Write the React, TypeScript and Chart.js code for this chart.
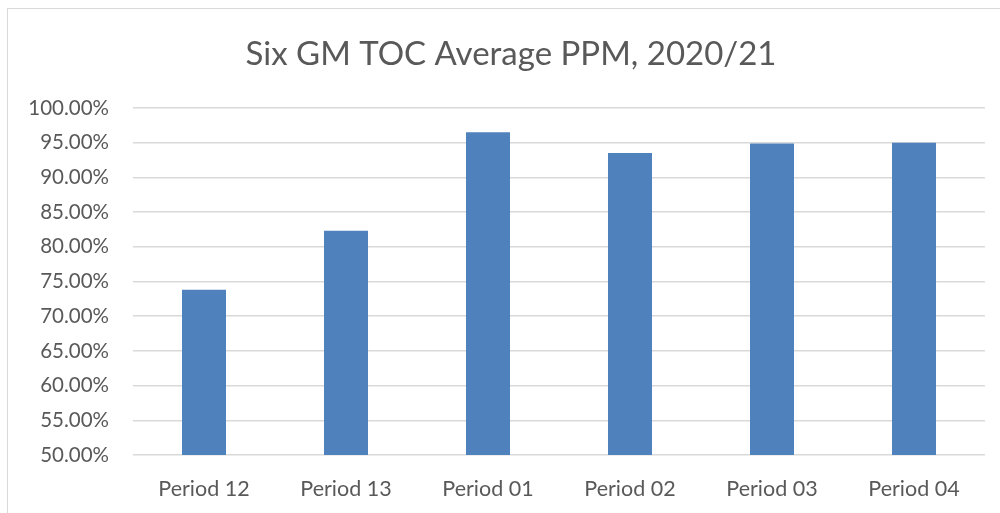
import React, { useEffect, useRef } from "react";
import { Chart, registerables } from "chart.js";

Chart.register(...registerables);

const categories = ["Period 12", "Period 13", "Period 01", "Period 02", "Period 03", "Period 04"];
const averagePpm = [73.8, 82.3, 96.5, 93.5, 94.9, 95.0];
const yMin = 50;
const yMax = 100;
const yStep = 5;
const chartTitle = "Six GM TOC Average PPM, 2020/21";

const centerTitle = {
  id: "centerTitle",
  afterLayout(chart: any) {
    const t = chart.titleBlock;
    if (t) {
      t.left = 37;
      t.right = 985;
    }
  },
};

export default function App() {
  const ref = useRef<HTMLCanvasElement | null>(null);

  useEffect(() => {
    if (!ref.current) return;
    const chart = new Chart(ref.current, {
      type: "bar",
      data: {
        labels: categories,
        datasets: [
          {
            data: averagePpm,
            backgroundColor: "#4F81BD",
            borderWidth: 0,
            barPercentage: 0.31,
            categoryPercentage: 1,
          },
        ],
      },
      plugins: [centerTitle],
      options: {
        responsive: false,
        animation: false,
        layout: { padding: { left: 0, right: 15, top: 0, bottom: 0 } },
        plugins: {
          legend: { display: false },
          tooltip: { enabled: false },
          title: {
            display: true,
            text: chartTitle,
            color: "#595959",
            font: { family: "Lato", size: 33, weight: "normal", lineHeight: 1.2 },
            padding: { top: 35, bottom: 33.4 },
          },
        },
        scales: {
          x: {
            grid: { display: false, drawTicks: false },
            border: { display: false },
            ticks: {
              color: "#595959",
              font: { family: "Lato", size: 21.5 },
              padding: 21,
              maxRotation: 0,
            },
            afterFit: (scale: any) => {
              scale.height = 58;
            },
          },
          y: {
            min: yMin,
            max: yMax,
            grid: { color: "#D9D9D9", lineWidth: 1.5, drawTicks: false },
            border: { display: false },
            ticks: {
              stepSize: yStep,
              color: "#595959",
              font: { family: "Lato", size: 20.5 },
              padding: 24,
              callback: (v: any) => Number(v).toFixed(2) + "%",
            },
            afterFit: (scale: any) => {
              scale.width = 133;
            },
          },
        },
      },
    });
    return () => chart.destroy();
  }, []);

  return (
    <div style={{ position: "absolute", left: 0, top: 0, width: 1000, height: 513, background: "#fff", overflow: "hidden" }}>
      <div
        style={{
          position: "absolute",
          left: 7,
          top: 8,
          width: 1000,
          height: 520,
          borderLeft: "1px solid #D9D9D9",
          borderTop: "1px solid #D9D9D9",
        }}
      />
      <canvas ref={ref} width={1000} height={513} style={{ position: "absolute", left: 0, top: 0 }} />
    </div>
  );
}
